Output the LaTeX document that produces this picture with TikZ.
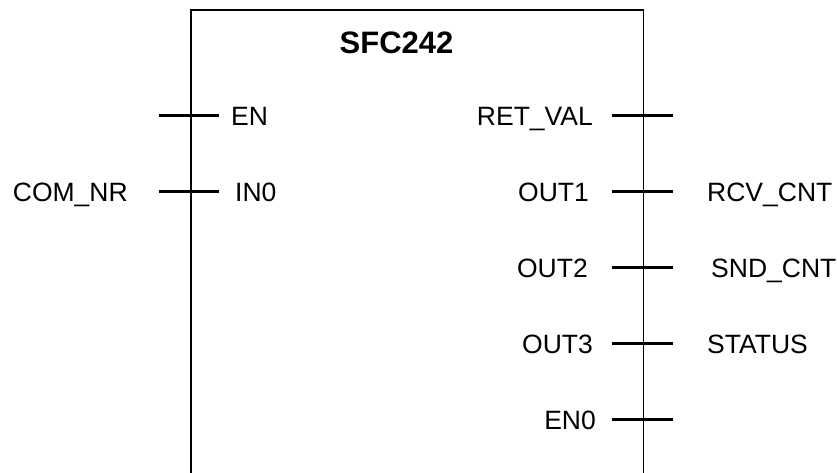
\documentclass[tikz,border=0pt]{standalone}
\usepackage{fontspec}
\setmainfont{Liberation Sans}
\begin{document}
\begin{tikzpicture}[x=1pt,y=-1pt,
  lbl/.style={inner sep=0pt, font=\fontsize{26.5}{30}\selectfont},
  ttl/.style={inner sep=0pt, font=\fontsize{31}{36}\selectfont\bfseries},
  boxline/.style={line width=1.8pt},
  pinline/.style={line width=3.5pt}]
\useasboundingbox (0,0) rectangle (837,472);
\clip (0,0) rectangle (837,472);
% block
\draw[boxline] (190.7,520) -- (190.7,10) -- (643.5,10) -- (643.5,520);
\node[ttl, anchor=base] (title) at (396.5,53.3) {SFC242};
% pin end coordinates
\foreach \n/\y in {en/115.7, in/191.3} {
  \coordinate (\n-a) at (159,\y);
  \coordinate (\n-b) at (219,\y);
}
\foreach \n/\y in {ret/115.3, o1/191.3, o2/267.3, o3/343.3, eno/419.3} {
  \coordinate (\n-a) at (612.3,\y);
  \coordinate (\n-b) at (672.7,\y);
}
\foreach \n in {en,in,ret,o1,o2,o3,eno} {
  \draw[pinline] (\n-a) -- (\n-b);
}
% left labels
\node[lbl, anchor=base west] (lEN) at (231,125.5) {EN};
\node[lbl, anchor=base west] (lIN) at (235,201) {IN0};
\node[lbl, anchor=base west] (lCOM) at (12.7,201) {COM\_NR};
% right inside labels
\node[lbl, anchor=base east] (lRET) at (593,125) {RET\_VAL};
\node[lbl, anchor=base east] (lO1) at (589,201) {OUT1};
\node[lbl, anchor=base east] (lO2) at (588,277) {OUT2};
\node[lbl, anchor=base east] (lO3) at (593,353) {OUT3};
\node[lbl, anchor=base east] (lENO) at (596,429) {EN0};
% right outside labels
\node[lbl, anchor=base west] (lRCV) at (707,201) {RCV\_CNT};
\node[lbl, anchor=base west] (lSND) at (711,277) {SND\_CNT};
\node[lbl, anchor=base west] (lST) at (707,353) {STATUS};
\end{tikzpicture}
\end{document}
